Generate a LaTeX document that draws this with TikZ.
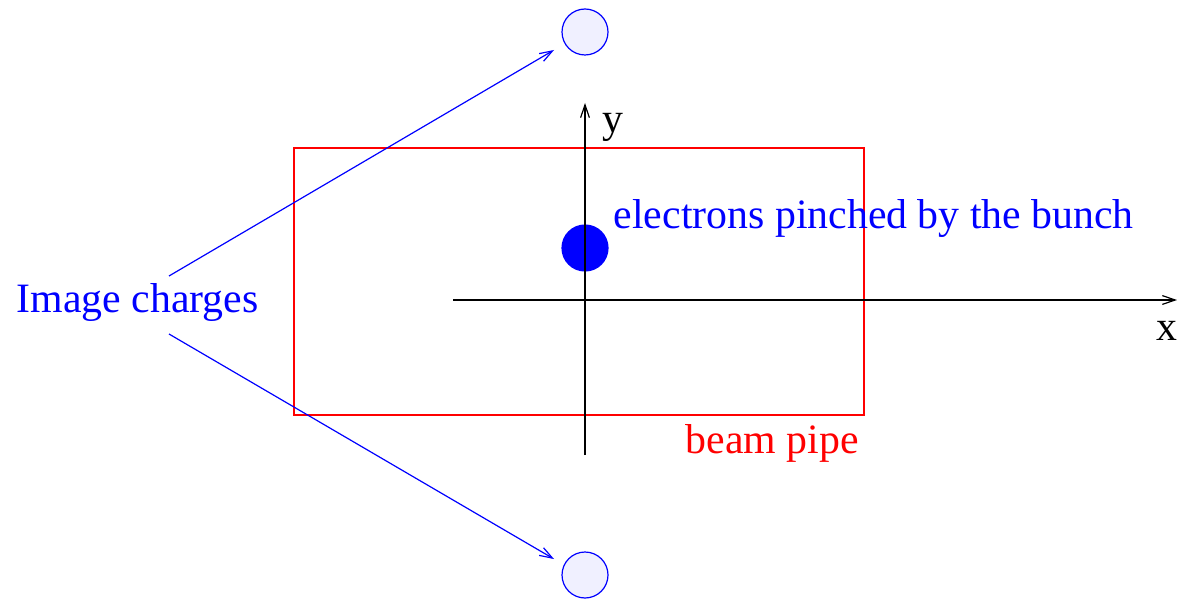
\documentclass[tikz,border=0pt]{standalone}
\usepackage{fontspec}
\setmainfont{Liberation Serif}
\usetikzlibrary{arrows.meta}
\definecolor{imgfill}{RGB}{240,240,255}
\tikzset{
  ln/.style={line width=0.3pt},
  arr/.style={ln,-{Straight Barb[length=3.2pt,width=2.2pt,line width=0.3pt]}},
  lbl/.style={inner sep=0pt,anchor=base west,font=\fontsize{10.45}{12}\selectfont},
  imgq/.style={circle,draw=blue,fill=imgfill,ln,minimum size=11.5pt,inner sep=0pt},
}
\begin{document}
\begin{tikzpicture}[x=0.25pt,y=-0.25pt]
\useasboundingbox (0,0) rectangle (1177,599);
% beam pipe
\draw[red,ln] (294,148) rectangle (864,415);
% electron cloud
\node[circle,fill=blue,minimum size=11.8pt,inner sep=0pt] (e) at (585,248) {};
% axes
\coordinate (xs) at (453,300);
\coordinate (xe) at (1177,300);
\coordinate (ys) at (585,455);
\coordinate (ye) at (585,103);
\draw[arr] (xs) -- (xe);
\draw[arr] (ys) -- (ye);
% image charges
\node[imgq] (top) at (585,32) {};
\node[imgq] (bot) at (585,575) {};
\node[lbl,text=blue] (ic) at (16,312) {Image charges};
\coordinate (a1s) at (169,276);
\coordinate (a1e) at (554,50);
\coordinate (a2s) at (169,334);
\coordinate (a2e) at (554,559);
\draw[arr,blue] (a1s) -- (a1e);
\draw[arr,blue] (a2s) -- (a2e);
% labels
\node[lbl] (yl) at (602,133) {y};
\node[lbl] (xl) at (1156,340) {x};
\node[lbl,text=blue] (el) at (613,228) {electrons pinched by the bunch};
\node[lbl,text=red] (bp) at (685,453) {beam pipe};
\end{tikzpicture}
\end{document}
